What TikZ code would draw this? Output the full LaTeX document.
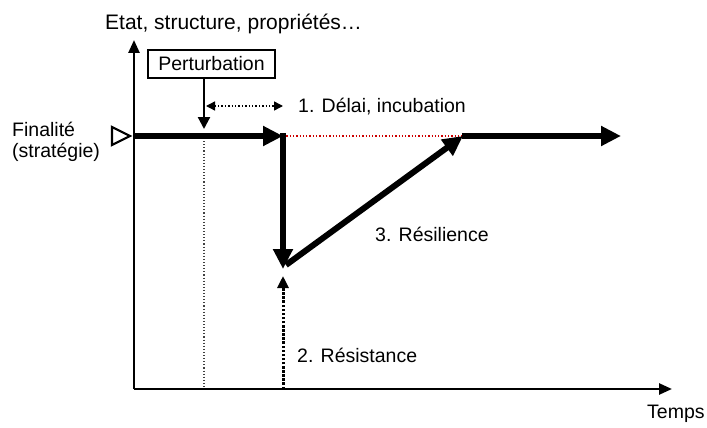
\documentclass[tikz,border=0pt]{standalone}
\usepackage{fontspec}
\setmainfont{Liberation Sans}
\usetikzlibrary{arrows.meta}
\begin{document}
\begin{tikzpicture}[x=1pt,y=-1pt,
  lbl/.style={anchor=base west,inner sep=0pt,font=\fontsize{19.5}{22}\selectfont},
  axis/.style={line width=2.6pt,-{Triangle[length=13pt,width=11pt]}},
  thick arrow/.style={line width=6pt,-{Triangle[length=20pt,width=19pt]}},
  thin arrow/.style={line width=2.2pt,-{Triangle[length=12pt,width=12pt]}},
  guide/.style={line width=1.1pt,dotted,black!75},
  ]
\useasboundingbox (0,0) rectangle (707,428);
% axes
\coordinate (O) at (134,389);
\coordinate (Ytop) at (134,40);
\coordinate (Xend) at (672,389);
\draw[axis] (O) -- (Ytop);
\draw[axis] (O) -- (Xend);
\node[lbl,font=\fontsize{21}{24}\selectfont] (ylab) at (105,30) {Etat, structure, propriétés…};
\node[lbl] (xlab) at (647,418) {Temps};
% finalite
\node[lbl] (fin1) at (12,136) {Finalité};
\node[lbl] (fin2) at (12,157) {(stratégie)};
\draw[line width=2.2pt,fill=white] (112,127) -- (130,136) -- (112,145) -- cycle;
% perturbation
\node[draw,line width=1.5pt,minimum width=127pt,minimum height=28pt,inner sep=0pt,
  font=\fontsize{19.5}{22}\selectfont] (pert) at (211.5,64) {Perturbation};
\coordinate (pbot) at (204,78);
\coordinate (ptip) at (204,129);
\draw[thin arrow] (pbot) -- (ptip);
\coordinate (gtop) at (204,138);
\coordinate (gbot) at (204,389);
\draw[guide] (gtop) -- (gbot);
% delay
\coordinate (d1) at (206,106);
\coordinate (d2) at (283,106);
\draw[line width=1.4pt,dotted,{Triangle[length=9pt,width=9pt]}-{Triangle[length=9pt,width=9pt]}] (d1) -- (d2);
\node[lbl] (delai) at (298,112) {1. Délai, incubation};
% main path
\coordinate (start) at (134,136);
\coordinate (drop) at (283,136);
\coordinate (droptop) at (283,133);
\coordinate (bottom) at (283,269);
\coordinate (low) at (286,265);
\coordinate (recover) at (463,136);
\coordinate (finish) at (621,136);
\draw[line width=1.3pt,dotted,red!80!black] (drop) -- (recover);
\draw[thick arrow] (start) -- (drop);
\draw[thick arrow] (droptop) -- (bottom);
\draw[thick arrow] (low) -- (recover);
\draw[line width=6pt] (462,136) -- (605,136);
\draw[thick arrow] (600,136) -- (finish);
\node[lbl] (resil) at (375,241) {3. Résilience};
% resistance
\coordinate (rbot) at (283,389);
\coordinate (rtop) at (283,276);
\draw[line width=3pt,dash pattern=on 2.5pt off 1.6pt,-{Triangle[length=12pt,width=11pt]}] (rbot) -- (rtop);
\node[lbl] (resist) at (297,362) {2. Résistance};
\end{tikzpicture}
\end{document}
